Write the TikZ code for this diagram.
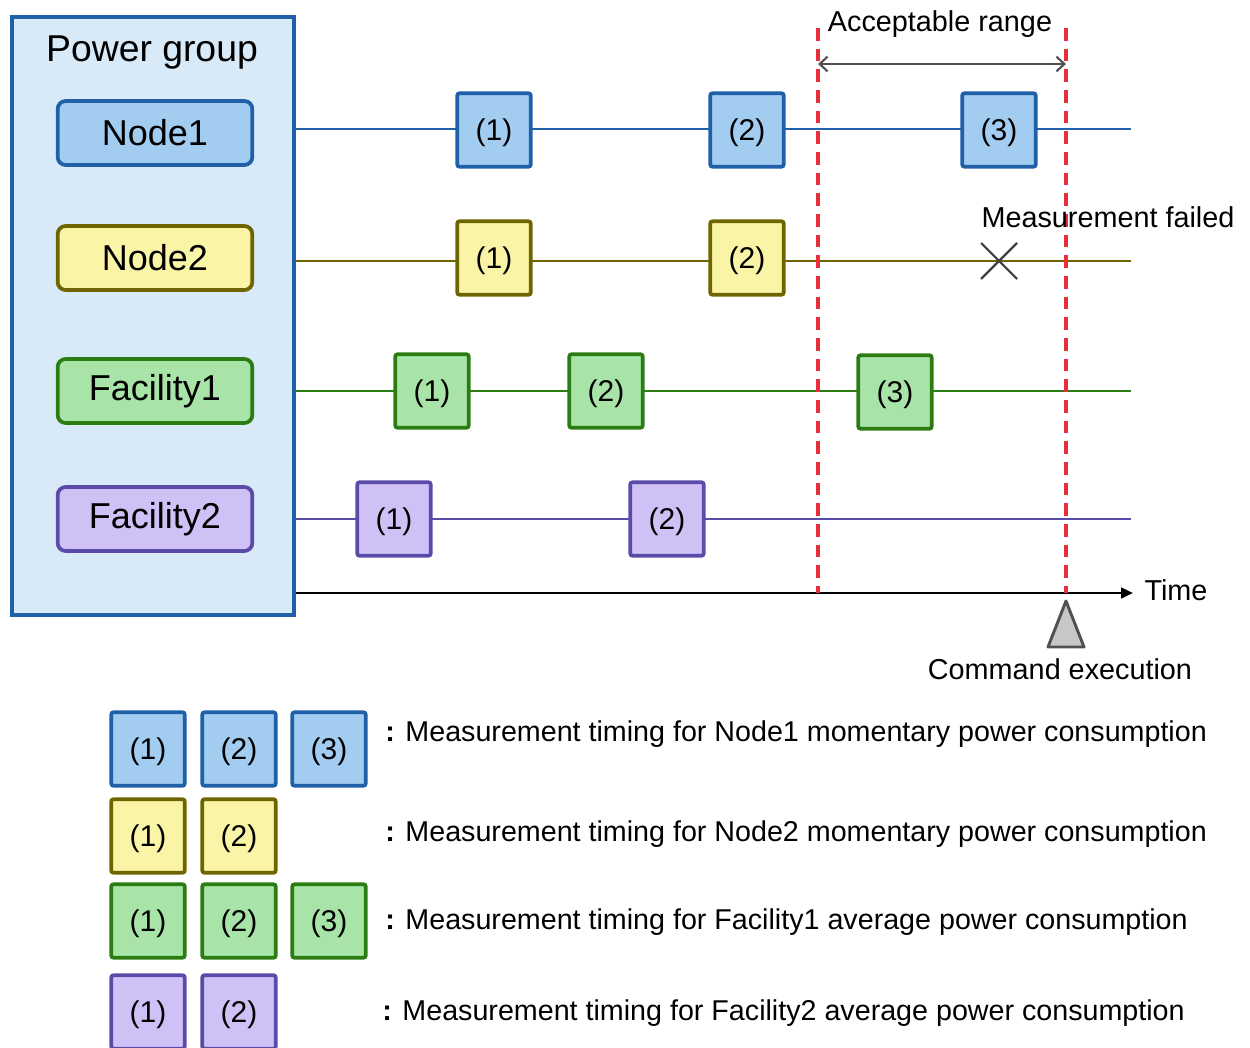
\documentclass[tikz,border=0pt]{standalone}
\usepackage{fontspec}
\setmainfont{Liberation Sans}
\usetikzlibrary{arrows.meta,backgrounds}
\definecolor{blueE}{HTML}{1F60A8}
\definecolor{blueF}{HTML}{A2CCF0}
\definecolor{grpF}{HTML}{D8E9F7}
\definecolor{yelE}{HTML}{6E6400}
\definecolor{yelF}{HTML}{FAF4A6}
\definecolor{grnE}{HTML}{2C7C14}
\definecolor{grnF}{HTML}{A8E3A8}
\definecolor{purE}{HTML}{5B4BA8}
\definecolor{purF}{HTML}{CFC1F5}
\definecolor{redD}{HTML}{E8303C}
\definecolor{grayA}{HTML}{505050}
\tikzset{
  grpbox/.style={draw=#1E,fill=#1F,line width=2.8pt,rounded corners=6pt,minimum width=146pt,minimum height=48pt,inner sep=0pt,font=\fontsize{27}{30}\selectfont},
  tbox/.style={draw=#1E,fill=#1F,line width=2.8pt,rounded corners=1.5pt,minimum width=55pt,minimum height=55pt,inner sep=0pt,text height=17pt,text depth=1pt,font=\fontsize{22.5}{26}\selectfont},
  tline/.style={draw=#1E,line width=2pt},
  dashr/.style={draw=redD,line width=3pt,dash pattern=on 9.5pt off 6pt},
  lbl/.style={inner sep=0pt,font=\fontsize{21.6}{24}\selectfont},
  leg/.style={inner sep=0pt,anchor=west,font=\fontsize{21.5}{24}\selectfont},
}
\begin{document}
\begin{tikzpicture}[x=0.75pt,y=-0.75pt]
\useasboundingbox (0,0) rectangle (1250,1048);
% power group
\node[draw=blueE,fill=grpF,line width=2.8pt,minimum width=212pt,minimum height=449pt,inner sep=0pt] (pg) at (153,316) {};
\node[inner sep=0pt,font=\fontsize{28}{30}\selectfont] (pgt) at (152,53) {Power group};
\node[grpbox=blue] (n1) at (155,133) {Node1};
\node[grpbox=yel] (n2) at (155,258) {Node2};
\node[grpbox=grn] (f1) at (155,391) {Facility1};
\node[grpbox=pur] (f2) at (155,519) {Facility2};
% line end coordinates
\coordinate (n1s) at (296,129); \coordinate (n1e) at (1131,129);
\coordinate (n2s) at (296,261); \coordinate (n2e) at (1131,261);
\coordinate (f1s) at (296,391); \coordinate (f1e) at (1131,391);
\coordinate (f2s) at (291,519); \coordinate (f2e) at (1131,519);
\coordinate (ts) at (296,593); \coordinate (te) at (1133,593);
\coordinate (r1t) at (818,28); \coordinate (r1b) at (818,593);
\coordinate (r2t) at (1066,28); \coordinate (r2b) at (1066,593);
\coordinate (a1) at (818,64); \coordinate (a2) at (1066,64);
% timing boxes
\node[tbox=blue] (b11) at (494,130) {(1)};
\node[tbox=blue] (b12) at (747,130) {(2)};
\node[tbox=blue] (b13) at (999,130) {(3)};
\node[tbox=yel] (b21) at (494,258) {(1)};
\node[tbox=yel] (b22) at (747,258) {(2)};
\node[tbox=grn] (b31) at (432,391) {(1)};
\node[tbox=grn] (b32) at (606,391) {(2)};
\node[tbox=grn] (b33) at (895,392) {(3)};
\node[tbox=pur] (b41) at (394,519) {(1)};
\node[tbox=pur] (b42) at (667,519) {(2)};
\begin{scope}[on background layer]
\draw[tline=blue] (n1s) -- (n1e);
\draw[tline=yel] (n2s) -- (n2e);
\draw[tline=grn] (f1s) -- (f1e);
\draw[tline=pur] (f2s) -- (f2e);
\draw[line width=1.9pt,-{Triangle[length=9pt,width=8pt]}] (ts) -- (te);
\end{scope}
\draw[dashr] (r1t) -- (r1b);
\draw[dashr] (r2t) -- (r2b);
\draw[draw=grayA,line width=1.6pt,{Straight Barb[length=6pt,width=11pt]}-{Straight Barb[length=6pt,width=11pt]}] (a1) -- (a2);
\node[lbl] (acc) at (940,24) {Acceptable range};
% measurement failed
\coordinate (fail) at (999,261);
\draw[draw=black!75,line width=1.6pt] ([shift={(-18,-18)}]fail) -- ([shift={(18,18)}]fail) ([shift={(-18,18)}]fail) -- ([shift={(18,-18)}]fail);
\node[lbl] (mf) at (1108,217) {Measurement failed};
\node[lbl] (time) at (1176,590) {Time};
% command execution
\coordinate (cmd) at (1066,601);
\draw[draw=grayA,fill=black!22,line width=2.2pt,line join=round] (cmd) -- ++(18,46) -- ++(-36,0) -- cycle;
\node[lbl] (ce) at (1060,669) {Command execution};
% legend
\node[tbox=blue] (l11) at (148,749) {(1)};
\node[tbox=blue] (l12) at (239,749) {(2)};
\node[tbox=blue] (l13) at (329,749) {(3)};
\node[tbox=yel] (l21) at (148,836) {(1)};
\node[tbox=yel] (l22) at (239,836) {(2)};
\node[tbox=grn] (l31) at (148,921) {(1)};
\node[tbox=grn] (l32) at (239,921) {(2)};
\node[tbox=grn] (l33) at (329,921) {(3)};
\node[tbox=pur] (l41) at (148,1012) {(1)};
\node[tbox=pur] (l42) at (239,1012) {(2)};
\node[leg] (t1) at (385,734) {\textbf{:} Measurement timing for Node1 momentary power consumption};
\node[leg] (t2) at (385,834) {\textbf{:} Measurement timing for Node2 momentary power consumption};
\node[leg] (t3) at (385,922) {\textbf{:} Measurement timing for Facility1 average power consumption};
\node[leg] (t4) at (382,1013) {\textbf{:} Measurement timing for Facility2 average power consumption};
\end{tikzpicture}
\end{document}
